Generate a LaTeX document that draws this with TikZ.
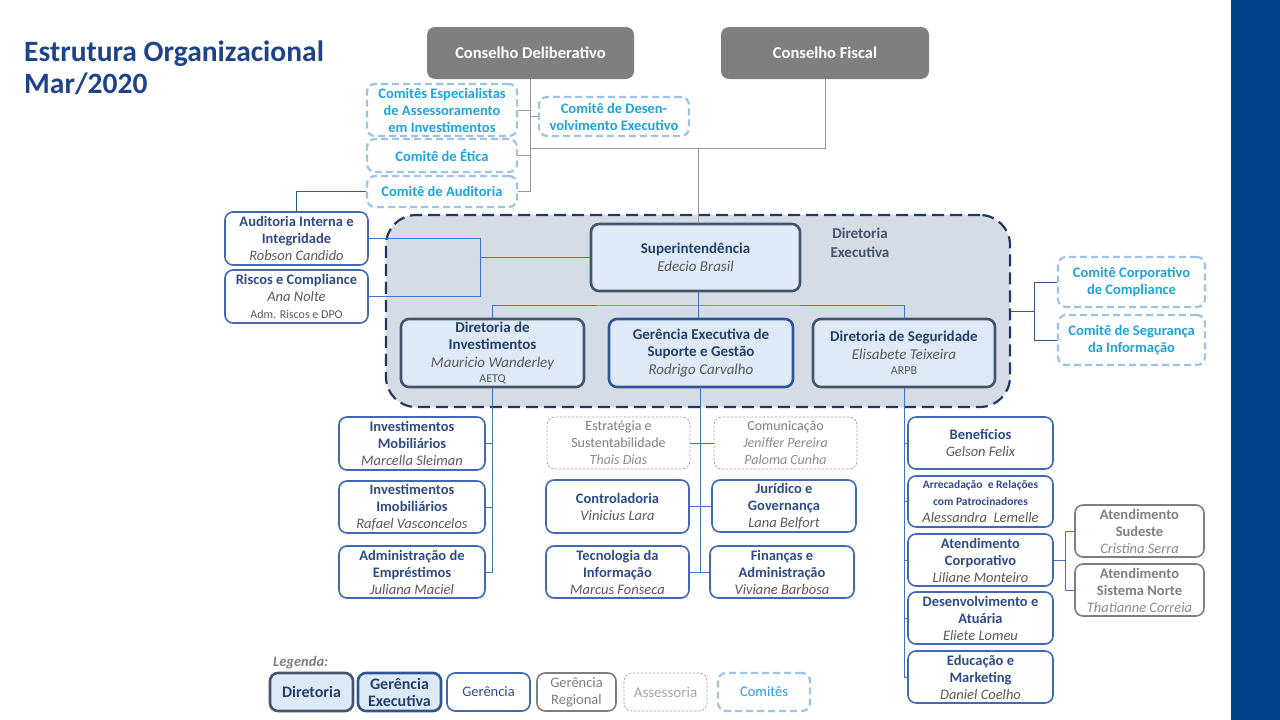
\documentclass[tikz,border=0pt]{standalone}
\usepackage{fontspec}
\setmainfont{Carlito}
\definecolor{barblue}{HTML}{00428A}
\definecolor{titleblue}{HTML}{1E4389}
\definecolor{gtext}{HTML}{2F4B87}
\definecolor{dtext}{HTML}{263E6B}
\definecolor{namegray}{HTML}{595959}
\definecolor{comtext}{HTML}{1FA3DD}
\definecolor{comborder}{HTML}{9DC3E6}
\definecolor{gborder}{HTML}{4169B5}
\definecolor{dborder}{HTML}{44546A}
\definecolor{geborder}{HTML}{2F5597}
\definecolor{lightfill}{HTML}{DEEBF7}
\definecolor{contfill}{HTML}{D6DCE5}
\definecolor{contborder}{HTML}{1F3864}
\definecolor{reggray}{HTML}{7F7F7F}
\definecolor{assgray}{HTML}{A6A6A6}
\definecolor{regname}{HTML}{8C8C8C}
\definecolor{consfill}{HTML}{7F7F7F}
\definecolor{glinec}{HTML}{999999}
\definecolor{blinec}{HTML}{4472C4}
\newcommand\pn[1]{{\mdseries\itshape\color{namegray}#1}}
\newcommand\pr[1]{{\mdseries\itshape\color{regname}#1}}
\newcommand\ps[1]{{\mdseries\fontsize{12}{13}\selectfont\color{namegray}#1}}
\begin{document}
\begin{tikzpicture}[x=1pt,y=-1pt,
  box/.style={rounded corners=8pt, align=center, inner sep=0pt, font=\fontsize{14.5}{17}\selectfont\bfseries},
  ger/.style={box, draw=gborder, line width=1.6pt, fill=white, text=gtext},
  dir/.style={box, draw=dborder, line width=2.6pt, fill=lightfill, text=dtext, font=\fontsize{15}{17.5}\selectfont\bfseries},
  gex/.style={box, draw=geborder, line width=2.6pt, fill=lightfill, text=dtext, font=\fontsize{15}{17.5}\selectfont\bfseries},
  reg/.style={box, draw=reggray, line width=1.6pt, fill=white, text=reggray},
  ass/.style={box, draw=assgray, line width=0.7pt, dash pattern=on 2.5pt off 1.5pt, fill=white, text=reggray, font=\fontsize{14}{17}\selectfont},
  com/.style={box, draw=comborder, line width=2.2pt, dash pattern=on 7pt off 4pt, fill=white, text=comtext, font=\fontsize{14.5}{17}\selectfont\bfseries},
  cons/.style={box, fill=consfill, text=white, font=\fontsize{16.5}{19}\selectfont\bfseries},
  gline/.style={draw=glinec, line width=1pt},
  bline/.style={draw=blinec, line width=1pt},
  dline/.style={draw=geborder, line width=1pt},
  sz/.style 2 args={minimum width=#1pt, minimum height=#2pt}
]
\useasboundingbox (0,0) rectangle (1280,720);
\fill[white] (0,0) rectangle (1280,720);
\fill[barblue] (1231,0) rectangle (1280,720);

% title
\node[anchor=base west, font=\fontsize{29.5}{30}\selectfont\bfseries, text=titleblue, inner sep=0pt] (t1) at (24,61) {Estrutura Organizacional};
\node[anchor=base west, font=\fontsize{29.5}{30}\selectfont\bfseries, text=titleblue, inner sep=0pt] (t2) at (24,93) {Mar/2020};

% container
\node[draw=contborder, line width=2.2pt, dash pattern=on 12pt off 6pt, fill=contfill, rounded corners=30pt, sz={624}{192}, inner sep=0pt] (de) at (698,311) {};
\node[font=\fontsize{15}{19}\selectfont\bfseries, text=dborder, align=center, inner sep=0pt] (delab) at (860,243) {Diretoria\\Executiva};

% councils
\node[cons, sz={207}{52}] (cd) at (530.5,53) {Conselho Deliberativo};
\node[cons, sz={208}{52}] (cf) at (825,53) {Conselho Fiscal};

% committees top
\node[com, sz={150}{52}] (esp) at (442,110) {Comitês Especialistas\\de Assessoramento\\em Investimentos};
\node[com, sz={150}{39}] (desv) at (614,116.5) {Comitê de Desen-\\volvimento Executivo};
\node[com, sz={150}{33}] (eti) at (442,155.5) {Comitê de Ética};
\node[com, sz={150}{31}] (aud) at (442,191.5) {Comitê de Auditoria};

% left
\node[ger, sz={143}{53}] (ai) at (296.5,238.5) {Auditoria Interna e\\Integridade\\\pn{Robson Candido}};
\node[ger, sz={143}{53}] (rc) at (296.5,296.5) {Riscos e Compliance\\\pn{Ana Nolte}\\\ps{Adm. Riscos e DPO}};

% directors
\node[dir, sz={209}{67}] (sup) at (695.5,257.5) {Superintendência\\[1pt]\pn{Edecio Brasil}};
\node[dir, sz={183}{68}] (di) at (492.5,353) {Diretoria de\\Investimentos\\\pn{Mauricio Wanderley}\\[-2pt]\ps{AETQ}};
\node[gex, sz={184}{68}] (ge) at (701,353) {Gerência Executiva de\\Suporte e Gestão\\\pn{Rodrigo Carvalho}};
\node[dir, sz={182}{68}] (ds) at (904,353) {Diretoria de Seguridade\\\pn{Elisabete Teixeira}\\[-2pt]\ps{ARPB}};

% right committees
\node[com, sz={147}{50}] (ccc) at (1131.5,282) {Comitê Corporativo\\de Compliance};
\node[com, sz={147}{50}] (csi) at (1131.5,340) {Comitê de Segurança\\da Informação};

% investimentos column
\node[ger, sz={146}{53}] (mob) at (412,443.5) {Investimentos\\Mobiliários\\\pn{Marcella Sleiman}};
\node[ger, sz={146}{52}] (imo) at (412,507) {Investimentos\\Imobiliários\\\pn{Rafael Vasconcelos}};
\node[ger, sz={146}{52}] (adm) at (412,572) {Administração de\\Empréstimos\\\pn{Juliana Maciel}};

% suporte e gestao columns
\node[ass, sz={143}{52}] (est) at (618.5,443) {Estratégia e\\Sustentabilidade\\\pr{Thais Dias}};
\node[ger, sz={143}{53}] (ctl) at (617.5,506.5) {Controladoria\\\pn{Vinicius Lara}};
\node[ger, sz={143}{52}] (ti) at (617.5,572) {Tecnologia da\\Informação\\\pn{Marcus Fonseca}};
\node[ass, sz={143}{52}] (cmn) at (785.5,443) {Comunicação\\\pr{Jeniffer Pereira}\\\pr{Paloma Cunha}};
\node[ger, sz={144}{52}] (jur) at (784,506) {Jurídico e\\Governança\\\pn{Lana Belfort}};
\node[ger, sz={144}{52}] (fin) at (782,572) {Finanças e\\Administração\\\pn{Viviane Barbosa}};

% seguridade column
\node[ger, sz={145}{52}] (ben) at (980.5,443) {Benefícios\\\pn{Gelson Felix}};
\node[ger, sz={145}{51}] (arr) at (980.5,501.5) {{\fontsize{11.5}{15}\selectfont Arrecadação\ \ e Relações}\\{\fontsize{11.5}{15}\selectfont com Patrocinadores}\\\pn{Alessandra\ \ Lemelle}};
\node[ger, sz={145}{52}] (atc) at (980.5,560) {Atendimento\\Corporativo\\\pn{Liliane Monteiro}};
\node[ger, sz={145}{52}] (dev) at (980.5,618) {Desenvolvimento e\\Atuária\\\pn{Eliete Lomeu}};
\node[ger, sz={145}{52}] (edu) at (980.5,677) {Educação e\\Marketing\\\pn{Daniel Coelho}};

% regionals
\node[reg, sz={129}{52}] (sud) at (1139.5,531) {Atendimento\\Sudeste\\\pr{Cristina Serra}};
\node[reg, sz={129}{52}] (nor) at (1139.5,590) {Atendimento\\Sistema Norte\\\pr{Thatianne Correia}};

% legend
\node[anchor=base west, inner sep=0pt, font=\fontsize{14.5}{15}\selectfont\bfseries\itshape, text=reggray] (leg) at (273,666) {Legenda:};
\node[dir, sz={83}{38}, font=\fontsize{16}{17}\selectfont\bfseries] (l1) at (311.5,692) {Diretoria};
\node[gex, sz={83}{38}, font=\fontsize{16}{17}\selectfont\bfseries] (l2) at (399.5,692) {Gerência\\Executiva};
\node[ger, sz={83}{38}, font=\fontsize{14.5}{17}\selectfont] (l3) at (488.5,692) {Gerência};
\node[reg, sz={79}{38}, font=\fontsize{14.5}{17}\selectfont] (l4) at (576.5,692) {Gerência\\Regional};
\node[ass, sz={83}{38}, text=assgray, font=\fontsize{15}{17}\selectfont] (l5) at (665.5,692) {Assessoria};
\node[com, sz={92}{38}, font=\fontsize{14.5}{16}\selectfont] (l6) at (764,692) {Comitês};

% coordinates
\coordinate (j1) at (530.5,148);
\coordinate (j2) at (480,257.5);
\coordinate (j3) at (698,305);
\coordinate (jr) at (1034,311);
\coordinate (jx) at (1065,560);

% council connectors
\draw[gline] (cd.south) -- (cd.south |- aud.east);
\draw[gline] (esp.east) -- (esp.east -| cd.south);
\draw[gline] (desv.west) -- (desv.west -| cd.south);
\draw[gline] (eti.east) -- (eti.east -| cd.south);
\draw[gline] (aud.east) -- (aud.east -| cd.south);
\draw[gline] (j1) -| (cf.south);
\draw[gline] (j1 -| j3) -- (sup.north -| j3);

% auditoria
\draw[dline] (aud.west) -| (ai.north);
\draw[bline] (ai.east) -| (j2 |- rc.east) -- (rc.east);
\draw[bline] (j2) -- (sup.west);

% superintendencia to directors
\draw[bline] (sup.south -| j3) -- (j3);
\draw[bline] (di.north) |- (j3) -| (ds.north);
\draw[bline] (j3) -- (ge.north -| j3);

% right committees
\draw[dline] (de.east) -- (jr);
\draw[dline] (ccc.west) -| (jr |- csi.west) -- (csi.west);

% investimentos
\draw[bline] (di.south) |- (adm.east);
\draw[bline] (mob.east) -- (mob.east -| di.south);
\draw[bline] (imo.east) -- (imo.east -| di.south);

% suporte e gestao
\coordinate (gx) at (700,387);
\draw[bline] (gx) -- (gx |- fin.west);
\draw[bline] (est.east) -- (est.east -| gx);
\draw[bline] (ctl.east) -- (ctl.east -| gx);
\draw[bline] (ti.east) -- (ti.east -| gx);
\draw[bline] (cmn.west) -- (cmn.west -| gx);
\draw[bline] (jur.west) -- (jur.west -| gx);
\draw[bline] (fin.west) -- (fin.west -| gx);

% seguridade
\draw[bline] (ds.south) |- (edu.west);
\draw[bline] (ben.west) -- (ben.west -| ds.south);
\draw[bline] (arr.west) -- (arr.west -| ds.south);
\draw[bline] (atc.west) -- (atc.west -| ds.south);
\draw[bline] (dev.west) -- (dev.west -| ds.south);

% regionals
\draw[bline] (atc.east) -- (jx);
\draw[bline] (sud.west) -| (jx |- nor.west) -- (nor.west);
\end{tikzpicture}
\end{document}
